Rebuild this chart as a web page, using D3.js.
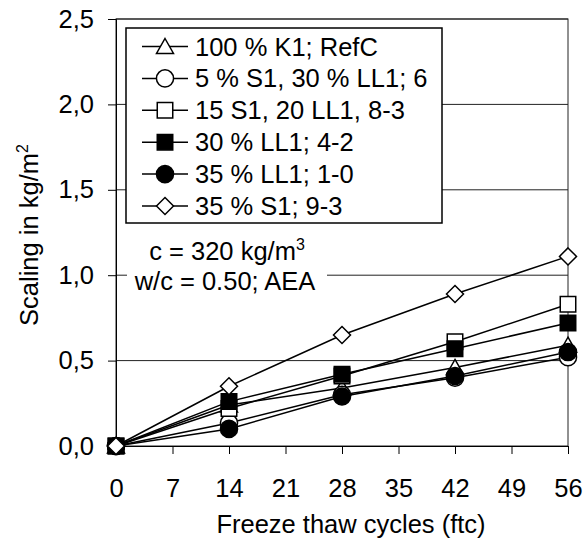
<!DOCTYPE html>
<html><head><meta charset="utf-8">
<script src="https://cdn.jsdelivr.net/npm/d3@7"></script>
<style>
body{margin:0;background:#fff;}
text{font-family:Arial,"Liberation Sans",sans-serif;fill:#000;}
</style></head>
<body><svg id="c" width="587" height="541"></svg>
<script>
const cycles = [0, 14, 28, 42, 56];
const seriesNames = ["100 % K1; RefC", "5 % S1, 30 % LL1; 6", "15 S1, 20 LL1, 8-3", "30 % LL1; 4-2", "35 % LL1; 1-0", "35 % S1; 9-3"];
const sK1 = [0, 0.24, 0.34, 0.46, 0.59];
const sS1LL1a = [0, 0.135, 0.30, 0.40, 0.52];
const sS1LL1b = [0, 0.22, 0.41, 0.61, 0.83];
const sLL1_30 = [0, 0.26, 0.42, 0.57, 0.72];
const sLL1_35 = [0, 0.10, 0.29, 0.41, 0.55];
const sS1_35 = [0, 0.35, 0.65, 0.89, 1.11];
const xTicks = [0, 7, 14, 21, 28, 35, 42, 49, 56];
const yTicks = [0, 0.5, 1.0, 1.5, 2.0, 2.5];

const values = [sK1, sS1LL1a, sS1LL1b, sLL1_30, sLL1_35, sS1_35];
const shapes = ["triangle", "circle", "square", "square", "circle", "diamond"];
const fills = ["#fff", "#fff", "#fff", "#000", "#000", "#fff"];

const L = 116, R = 568, T = 19, B = 446;
const x = d3.scaleLinear().domain([0, 56]).range([L, R]);
const y = d3.scaleLinear().domain([0, 2.5]).range([B, T]);
const svg = d3.select("#c");
const FS = 25.5;

const triType = {draw(ctx, size){ ctx.moveTo(0,-8); ctx.lineTo(8.5,7); ctx.lineTo(-8.5,7); ctx.closePath(); }};
const diaType = {draw(ctx, size){ ctx.moveTo(0,-8.5); ctx.lineTo(8.5,0); ctx.lineTo(0,8.5); ctx.lineTo(-8.5,0); ctx.closePath(); }};
function symPath(s){
  if (s === "triangle") return d3.symbol().type(triType)();
  if (s === "diamond") return d3.symbol().type(diaType)();
  if (s === "square") return d3.symbol().type(d3.symbolSquare).size(240)();
  return d3.symbol().type(d3.symbolCircle).size(230)();
}
const fmt = v => d3.format(".1f")(v).replace(".", ",");

// gridlines
svg.append("g").selectAll("line").data(yTicks.slice(1)).join("line")
  .attr("x1", L).attr("x2", R).attr("y1", d => y(d)).attr("y2", d => y(d))
  .attr("stroke", "#222").attr("stroke-width", 1);
// plot border
svg.append("rect").attr("x", L).attr("y", T).attr("width", R - L).attr("height", B - T)
  .attr("fill", "none").attr("stroke", "#222").attr("stroke-width", 1);

// axes
const yAxis = d3.axisLeft(y).tickValues(yTicks).tickSize(8).tickPadding(14).tickFormat(fmt);
const gy = svg.append("g").attr("transform", `translate(${L},0)`).call(yAxis);
gy.select(".domain").attr("stroke", "#000");
gy.selectAll("text").attr("font-size", FS).attr("font-family", "Arial, 'Liberation Sans', sans-serif");
const xAxis = d3.axisBottom(x).tickValues(xTicks).tickSize(8).tickPadding(25).tickFormat(d3.format("d"));
const gx = svg.append("g").attr("transform", `translate(0,${B})`).call(xAxis);
gx.selectAll("text").attr("font-size", FS).attr("font-family", "Arial, 'Liberation Sans', sans-serif");

// annotation background
svg.append("rect").attr("x", 127).attr("y", 234).attr("width", 200).attr("height", 64).attr("fill", "#fff");
const a1 = svg.append("text").attr("x", 227).attr("y", 260).attr("text-anchor", "middle").attr("font-size", FS);
a1.append("tspan").text("c = 320 kg/m");
a1.append("tspan").attr("font-size", 16).attr("dy", -10).text("3");
svg.append("text").attr("x", 225).attr("y", 290).attr("text-anchor", "middle").attr("font-size", FS).text("w/c = 0.50; AEA");

// series
const line = d3.line().x((d, i) => x(cycles[i])).y(d => y(d));
values.forEach((vals, k) => {
  svg.append("path").attr("d", line(vals)).attr("fill", "none").attr("stroke", "#000").attr("stroke-width", 1.5);
});
values.forEach((vals, k) => {
  svg.append("g").selectAll("path").data(vals).join("path")
    .attr("transform", (d, i) => `translate(${x(cycles[i])},${y(d)})`)
    .attr("d", symPath(shapes[k])).attr("fill", fills[k]).attr("stroke", "#000").attr("stroke-width", 1.5);
});

// legend
const lg = svg.append("g");
lg.append("rect").attr("x", 126).attr("y", 28).attr("width", 316).attr("height", 195)
  .attr("fill", "#fff").attr("stroke", "#000").attr("stroke-width", 1.5);
seriesNames.forEach((name, k) => {
  const cy = 46.5 + k * 31.9;
  lg.append("line").attr("x1", 142).attr("x2", 188).attr("y1", cy).attr("y2", cy).attr("stroke", "#000").attr("stroke-width", 1.5);
  lg.append("path").attr("transform", `translate(165,${cy})`).attr("d", symPath(shapes[k]))
    .attr("fill", fills[k]).attr("stroke", "#000").attr("stroke-width", 1.5);
  lg.append("text").attr("x", 195).attr("y", cy + 9).attr("font-size", FS).text(name);
});

// axis titles
svg.append("text").attr("x", 351).attr("y", 533).attr("text-anchor", "middle").attr("font-size", FS).text("Freeze thaw cycles (ftc)");
const yt = svg.append("text").attr("transform", "translate(38,235) rotate(-90)").attr("text-anchor", "middle").attr("font-size", FS);
yt.append("tspan").text("Scaling in kg/m");
yt.append("tspan").attr("font-size", 16).attr("dy", -10).text("2");
</script></body></html>
